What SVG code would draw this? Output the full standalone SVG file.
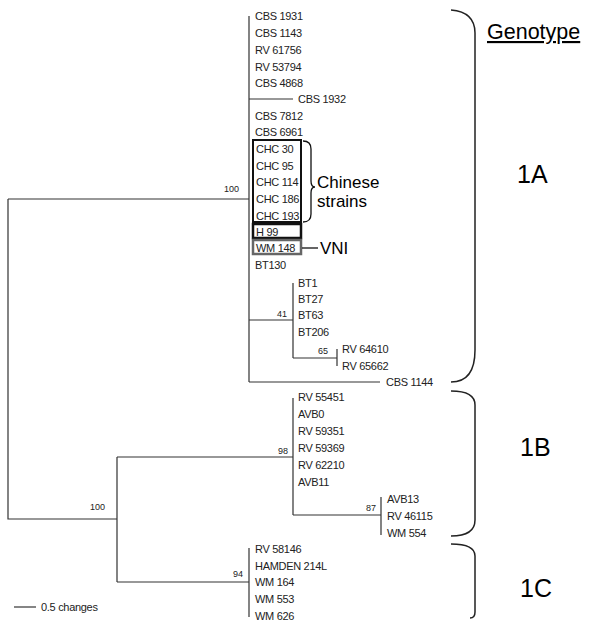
<svg xmlns="http://www.w3.org/2000/svg" width="600" height="630" viewBox="0 0 600 630">
<style>
.e{stroke:#333;stroke-width:1.2;fill:none}
.b{stroke:#222;stroke-width:1.5;fill:none}
.l{font-family:"Liberation Sans",Arial,sans-serif;font-size:11px;letter-spacing:-0.3px;fill:#222}
.s{font-family:"Liberation Sans",Arial,sans-serif;font-size:9px;fill:#222;text-anchor:end}
.big{font-family:"Liberation Sans",Arial,sans-serif;font-size:17px;fill:#000}
.g{font-family:"Liberation Sans",Arial,sans-serif;font-size:25px;fill:#000}
</style>
<rect width="600" height="630" fill="#fff"/>
<g id="connectors">
<path class="e" d="M8,199H249M8,199V519H117M117,457V582M117,457H293M117,582H249"/>
<path class="e" d="M249,16V382M249,99H293M249,320H293M293,283V358M293,358H337M337,349V366M249,382H380"/>
<path class="e" d="M293,398V515M293,515H381M381,497V535"/>
<path class="e" d="M249,548V617"/>
<path class="e" d="M14,607H36"/>
</g>
<g id="bootstrap">
<text class="s" x="239" y="192">100</text>
<text class="s" x="105" y="510">100</text>
<text class="s" x="287" y="317">41</text>
<text class="s" x="328" y="354">65</text>
<text class="s" x="288" y="454">98</text>
<text class="s" x="376" y="511">87</text>
<text class="s" x="243" y="577">94</text>
</g>
<g id="clade1A">
<text class="l" x="255" y="20">CBS 1931</text>
<text class="l" x="255" y="37">CBS 1143</text>
<text class="l" x="255" y="54">RV 61756</text>
<text class="l" x="255" y="71">RV 53794</text>
<text class="l" x="255" y="87">CBS 4868</text>
<text class="l" x="298" y="103">CBS 1932</text>
<text class="l" x="255" y="120">CBS 7812</text>
<text class="l" x="255" y="136">CBS 6961</text>
<text class="l" x="256" y="153">CHC 30</text>
<text class="l" x="256" y="170">CHC 95</text>
<text class="l" x="256" y="186">CHC 114</text>
<text class="l" x="256" y="203">CHC 186</text>
<text class="l" x="256" y="220">CHC 193</text>
<text class="l" x="256" y="236">H 99</text>
<text class="l" x="256" y="252">WM 148</text>
<text class="l" x="255" y="269">BT130</text>
<text class="l" x="298" y="287">BT1</text>
<text class="l" x="298" y="303">BT27</text>
<text class="l" x="298" y="319">BT63</text>
<text class="l" x="298" y="336">BT206</text>
<text class="l" x="342" y="353">RV 64610</text>
<text class="l" x="342" y="370">RV 65662</text>
<text class="l" x="386" y="386">CBS 1144</text>
</g>
<g id="chinese-box">
<rect x="253" y="140" width="48" height="82" fill="none" stroke="#111" stroke-width="2"/>
<path d="M303,141Q311,141 311,149V181Q311,187 315,187Q311,187 311,193V214Q311,222 303,222" fill="none" stroke="#111" stroke-width="1.3"/>
<text class="big" x="317" y="188">Chinese</text>
<text class="big" x="317" y="207">strains</text>
</g>
<g id="h99-box"><rect x="253" y="224" width="48" height="14" fill="none" stroke="#111" stroke-width="2.5"/></g>
<g id="wm148-box">
<rect x="253" y="240" width="48" height="14" fill="none" stroke="#666" stroke-width="2.5"/>
<path d="M302,248H318" stroke="#111" stroke-width="1.3"/>
<text class="big" x="320" y="254">VNI</text>
</g>
<g id="clade1B">
<text class="l" x="298" y="401">RV 55451</text>
<text class="l" x="298" y="418">AVB0</text>
<text class="l" x="298" y="435">RV 59351</text>
<text class="l" x="298" y="452">RV 59369</text>
<text class="l" x="298" y="469">RV 62210</text>
<text class="l" x="298" y="486">AVB11</text>
<text class="l" x="387" y="503">AVB13</text>
<text class="l" x="387" y="520">RV 46115</text>
<text class="l" x="387" y="537">WM 554</text>
</g>
<g id="clade1C">
<text class="l" x="255" y="553">RV 58146</text>
<text class="l" x="255" y="570">HAMDEN 214L</text>
<text class="l" x="255" y="586">WM 164</text>
<text class="l" x="255" y="603">WM 553</text>
<text class="l" x="255" y="620">WM 626</text>
</g>
<g id="scale"><text class="l" x="41" y="611">0.5 changes</text></g>
<g id="genotypes">
<text x="487" y="39" font-family="Liberation Sans,Arial,sans-serif" font-size="21.5" text-decoration="underline" fill="#000">Genotype</text>
<path class="b" d="M451,10Q475,12 475,33V350Q475,382 451,382"/>
<text class="g" x="517" y="183">1A</text>
<path class="b" d="M451,391Q475,391 475,405V520Q475,536 451,536"/>
<text class="g" x="520" y="456">1B</text>
<path class="b" d="M451,544Q475,544 475,556V612Q475,618 470,618"/>
<text class="g" x="520" y="597">1C</text>
</g>
</svg>
